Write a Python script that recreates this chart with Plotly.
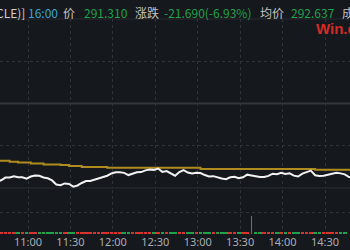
import plotly.graph_objects as go
from plotly.subplots import make_subplots
import pandas as pd

# ---------------- data ----------------
TIMES = ["10:38","10:41","10:44","10:47","10:50","10:53","10:56","10:59",
         "11:02","11:05","11:08","11:11","11:14","11:17","11:20","11:23","11:26","11:29",
         "11:32","11:35","11:38","11:41","11:44","11:47","11:50","11:53","11:56","11:59",
         "12:02","12:05","12:08","12:11","12:14","12:17","12:20","12:23","12:26","12:29",
         "12:32","12:35","12:38","12:41","12:44","12:47","12:50","12:53","12:56","12:59",
         "13:02","13:05","13:08","13:11","13:14","13:17","13:20","13:23","13:26","13:29",
         "13:32","13:35","13:38","13:41","13:44","13:47","13:50","13:53","13:56","13:59",
         "14:02","14:05","14:08","14:11","14:14","14:17","14:20","14:23","14:26","14:29",
         "14:32","14:35","14:38","14:41","14:44","14:47","14:50"]

PRICE = [290.00,290.35,291.17,291.17,291.52,291.26,291.26,290.82,
         291.46,291.76,291.67,291.17,290.94,290.32,289.12,288.89,289.44,289.27,
         288.48,288.83,289.56,290.15,290.18,290.59,291.02,291.41,291.70,292.37,
         292.70,292.70,292.55,291.90,292.31,292.70,292.78,293.28,293.54,293.43,
         293.81,292.84,293.08,292.26,291.70,292.78,293.37,292.64,292.34,292.58,
         292.49,291.90,291.46,291.58,291.17,290.91,290.67,291.23,291.41,290.97,
         291.23,292.02,291.79,291.52,291.32,291.32,291.67,292.31,292.17,292.58,
         292.23,292.40,291.73,291.46,292.31,292.78,293.22,291.85,291.64,291.73,
         291.99,292.34,292.58,292.40,292.11,291.32,291.02]

AVG_PRICE = [296.15,296.15,296.15,295.86,295.86,295.57,295.57,295.57,
             295.33,295.33,295.33,295.04,295.04,295.04,295.04,294.83,294.83,294.54,
             294.54,294.54,294.25,294.25,294.25,294.25,294.25,294.25,294.04,294.04,
             294.04,294.04,294.04,294.04,294.04,294.04,294.04,294.04,294.04,294.04,
             294.04,294.04,294.04,294.04,294.04,294.04,294.04,294.04,294.04,294.04,
             293.66,293.66,293.66,293.66,293.66,293.66,293.66,293.66,293.66,293.66,
             293.66,293.66,293.66,293.66,293.66,293.66,293.66,293.66,293.66,293.66,
             293.66,293.66,293.66,293.66,293.66,293.66,293.66,293.46,293.46,293.46,
             293.46,293.46,293.46,293.46,293.46,293.46,293.46]

VOLUME = [4,3,4,3,4,3,4,3,
          4,3,4,3,5,4,5,4,3,4,
          5,4,3,4,3,4,3,4,3,4,
          3,4,3,4,3,4,3,4,3,4,
          3,4,3,4,3,4,3,4,3,4,
          3,4,3,4,3,4,3,4,3,4,
          3,4,42,3,4,3,4,3,4,3,
          4,3,4,3,4,3,4,5,4,3,
          4,3,4,3,4]

PREV_CLOSE = 313.0
RANGE_PCT = 7.96
TICK_TIMES = ["11:00","11:30","12:00","12:30","13:00","13:30","14:00","14:30"]
VIEW_START, VIEW_END = "10:40:12", "14:47:40"

HDR_TIME = "16:00"
HDR_PRICE = 291.310
HDR_CHG = -21.690
HDR_CHG_PCT = -6.93
HDR_AVG = 292.637

# ---------------- build ----------------
DAY = "2024-01-02 "
t = pd.to_datetime([DAY + s for s in TIMES])
ticks = pd.to_datetime([DAY + s for s in TICK_TIMES])

BG = "#15181d"
GRID = "#2f333a"
RED = "#d8342c"
GREEN = "#1fa34a"

fig = make_subplots(rows=2, cols=1, shared_xaxes=False, vertical_spacing=0)

fig.add_trace(go.Scatter(x=t, y=AVG_PRICE, mode="lines", line=dict(color="#b08b1e", width=2, shape="hv"),
                         hoverinfo="skip"), row=1, col=1)
fig.add_trace(go.Scatter(x=t, y=PRICE, mode="lines", line=dict(color="#f2f2f2", width=2),
                         hoverinfo="skip"), row=1, col=1)

vol_colors = [RED] + [RED if PRICE[i] >= PRICE[i - 1] else GREEN for i in range(1, len(PRICE))]
big = max(VOLUME)
widths = [40000 if v == big else 150000 for v in VOLUME]
fig.add_trace(go.Bar(x=t, y=VOLUME, marker=dict(color=vol_colors, line=dict(width=0)),
                     width=widths, hoverinfo="skip"), row=2, col=1)

span = PREV_CLOSE * RANGE_PCT / 100
y_lo, y_hi = PREV_CLOSE - span, PREV_CLOSE + span
xrange = [DAY + VIEW_START, DAY + VIEW_END]

P_TOP, P_BOT = 1 - 19 / 250, 1 - 188 / 250
V_TOP, V_BOT = 1 - 190 / 250, 1 - 234 / 250

fig.update_layout(
    width=350, height=250, margin=dict(l=0, r=0, t=0, b=0),
    paper_bgcolor=BG, plot_bgcolor=BG, showlegend=False, bargap=0,
    font=dict(family="Noto Sans CJK SC, Noto Sans, sans-serif", color="#c8c8c8"),
    xaxis=dict(domain=[0, 1], range=xrange, type="date", showticklabels=False,
               tickvals=ticks, showgrid=True, gridcolor=GRID, griddash="dot", gridwidth=1,
               zeroline=False, showline=False, ticks=""),
    yaxis=dict(domain=[P_BOT, P_TOP], range=[y_lo, y_hi], showticklabels=False,
               tickvals=[PREV_CLOSE - span / 2, PREV_CLOSE + span / 2],
               showgrid=True, gridcolor=GRID, griddash="dot", zeroline=False, ticks=""),
    xaxis2=dict(domain=[0, 1], range=xrange, type="date", tickvals=ticks,
                ticktext=TICK_TIMES, tickfont=dict(size=11, color="#a9adb3",
                                                   family="Noto Sans, sans-serif"),
                showgrid=True, gridcolor=GRID, griddash="dot", zeroline=False,
                showline=False, ticks="", ticklen=0),
    yaxis2=dict(domain=[V_BOT, V_TOP], range=[0, 100], showticklabels=False,
                tickvals=[50], showgrid=True, gridcolor=GRID, griddash="dot",
                zeroline=False, ticks=""),
)

# reference / border lines
fig.add_shape(type="line", xref="paper", yref="y", x0=0, x1=1, y0=PREV_CLOSE, y1=PREV_CLOSE,
              line=dict(color="#33363c", width=2), layer="below")
fig.add_shape(type="line", xref="paper", yref="paper", x0=0, x1=1, y0=P_BOT, y1=P_BOT,
              line=dict(color="#2a2d33", width=1), layer="below")
fig.add_shape(type="line", xref="paper", yref="paper", x0=0, x1=1, y0=P_TOP, y1=P_TOP,
              line=dict(color="#262a30", width=1), layer="below")

# header
hy = 1 - 12 / 250
hdr = [
    ("CLE)]", -6, "#d0d0d0"),
    (HDR_TIME, 26, "#3aa6cf"),
    ("价", 61, "#c4c4c4"),
    (f"{HDR_PRICE:.3f}", 82, GREEN),
    ("涨跌", 133, "#c4c4c4"),
    (f"{HDR_CHG:.3f}({HDR_CHG_PCT:.2f}%)", 162, GREEN),
    ("均价", 258, "#c4c4c4"),
    (f"{HDR_AVG:.3f}", 289, GREEN),
    ("成", 340, "#c4c4c4"),
]
for txt, px, col in hdr:
    fig.add_annotation(text=txt, x=px / 350, y=hy, xref="paper", yref="paper",
                       xanchor="left", yanchor="middle", showarrow=False,
                       font=dict(size=12, color=col, family="Noto Sans CJK SC, Noto Sans, sans-serif"))

fig.add_annotation(text="<b>Win.d</b>", x=314 / 350, y=1 - 29 / 250, xref="paper", yref="paper",
                   xanchor="left", yanchor="middle", showarrow=False,
                   font=dict(size=15, color="#d62b26", family="Liberation Sans, Arial, sans-serif"))

fig.write_html("out.html")
